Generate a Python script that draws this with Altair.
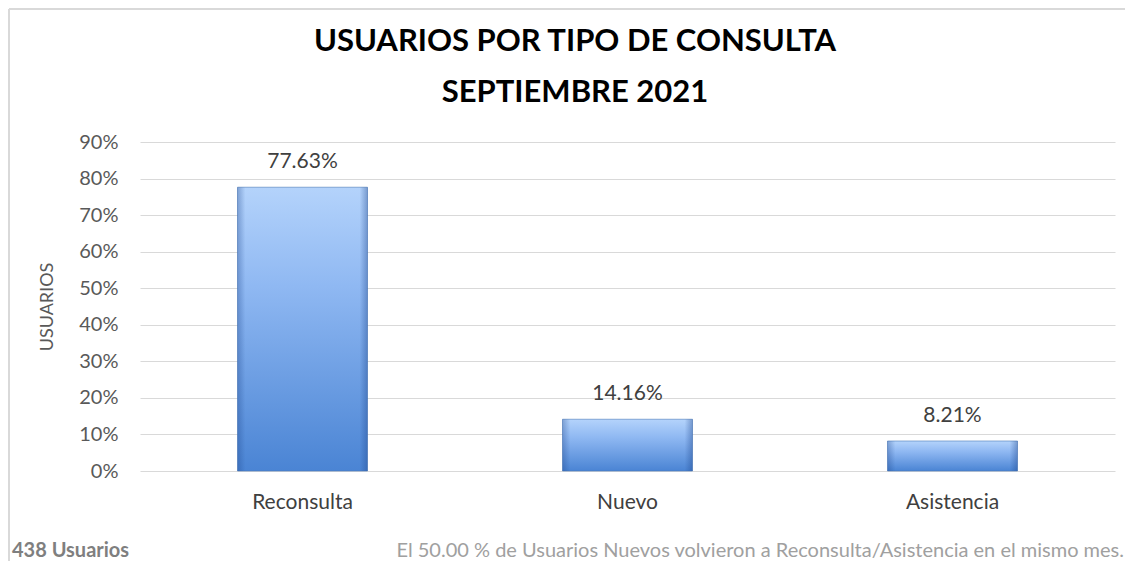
import altair as alt
import pandas as pd

categories = ["Reconsulta", "Nuevo", "Asistencia"]
shares = [0.7763, 0.1416, 0.0821]
y_ticks = [0.0, 0.1, 0.2, 0.3, 0.4, 0.5, 0.6, 0.7, 0.8, 0.9]
title_lines = ["USUARIOS POR TIPO DE CONSULTA", "SEPTIEMBRE 2021"]
footer_left = ["438 Usuarios"]
footer_right = ["El 50.00 % de Usuarios Nuevos volvieron a Reconsulta/Asistencia en el mismo mes."]

df = pd.DataFrame({"Tipo": categories, "Pct": shares})

FONT = "Lato"

x_scale = alt.Scale(paddingInner=0.6, paddingOuter=0.3)
x_enc = alt.X("Tipo:N", sort=categories, scale=x_scale,
              axis=alt.Axis(title=None, labelAngle=0, labelFontSize=21, labelColor="#404040",
                            labelPadding=20, ticks=False, domain=False, labelFont=FONT))
y_axis = alt.Axis(title="USUARIOS", values=y_ticks, format=".0%", labelOverlap=False,
                  labelFontSize=20, labelColor="#595959", labelPadding=22,
                  ticks=False, domain=False, gridColor="#d9d9d9", gridWidth=1.2,
                  titleFontSize=18, titleColor="#595959", titleFontWeight="normal",
                  titlePadding=22, labelFont=FONT, titleFont=FONT)
y_scale = alt.Scale(domain=[0, 0.9], nice=False)
y_enc = alt.Y("Pct:Q", scale=y_scale, axis=y_axis)

bars = alt.Chart(df).mark_bar(
    color=alt.Gradient(gradient="linear", x1=0, x2=0, y1=0, y2=1,
                       stops=[alt.GradientStop(color="#b4d3fb", offset=0),
                              alt.GradientStop(color="#8fb8f2", offset=0.35),
                              alt.GradientStop(color="#4a84d4", offset=1)]),
    stroke="#4a78b8", strokeWidth=1, strokeOpacity=0.6
).encode(x=x_enc, y=y_enc)

bevel = alt.Chart(df).mark_bar(
    color=alt.Gradient(gradient="linear", x1=0, x2=1, y1=0, y2=0,
                       stops=[alt.GradientStop(color="rgba(30,70,140,0.35)", offset=0),
                              alt.GradientStop(color="rgba(30,70,140,0)", offset=0.06),
                              alt.GradientStop(color="rgba(30,70,140,0)", offset=0.94),
                              alt.GradientStop(color="rgba(30,70,140,0.4)", offset=1)])
).encode(x=alt.X("Tipo:N", sort=categories, scale=x_scale), y=y_enc)

labels = alt.Chart(df).mark_text(
    baseline="alphabetic", dy=-19, fontSize=21, color="#404040", font=FONT
).encode(x=alt.X("Tipo:N", sort=categories), y=y_enc,
         text=alt.Text("Pct:Q", format=".2%"))

t1 = alt.Chart(pd.DataFrame({"t": title_lines[:1]})).mark_text(
    align="center", baseline="middle", fontSize=31, fontWeight="bold", color="#000000", font=FONT
).encode(x=alt.value(435), y=alt.value(-100), text="t:N")

t2 = alt.Chart(pd.DataFrame({"t": title_lines[1:]})).mark_text(
    align="center", baseline="middle", fontSize=31, fontWeight="bold", color="#000000", font=FONT
).encode(x=alt.value(435), y=alt.value(-49), text="t:N")

fl = alt.Chart(pd.DataFrame({"t": footer_left})).mark_text(
    align="left", baseline="middle", fontSize=20, fontWeight="bold", color="#7f7f7f", font=FONT
).encode(x=alt.value(-128), y=alt.value(409), text="t:N")

fr = alt.Chart(pd.DataFrame({"t": footer_right})).mark_text(
    align="right", baseline="middle", fontSize=20, color="#a0a0a0", font=FONT
).encode(x=alt.value(984), y=alt.value(409), text="t:N")

frame_left = alt.Chart(pd.DataFrame({"t": footer_left})).mark_rule(
    color="#d9d9d9", strokeWidth=2
).encode(x=alt.value(-131), y=alt.value(-133), y2=alt.value(421))

frame_top = alt.Chart(pd.DataFrame({"t": footer_left})).mark_rule(
    color="#d9d9d9", strokeWidth=2
).encode(x=alt.value(-131), x2=alt.value(985), y=alt.value(-133))

chart = alt.layer(frame_left, frame_top, bars, bevel, labels, t1, t2, fl, fr).properties(
    width=975, height=329,
    autosize=alt.AutoSizeParams(type="none"),
    padding={"left": 132, "top": 134, "right": 10, "bottom": 90},
).configure_view(stroke=None).configure_axis(labelFont=FONT, titleFont=FONT)

chart.save("out.html", embed_options={"renderer": "svg", "actions": False})
